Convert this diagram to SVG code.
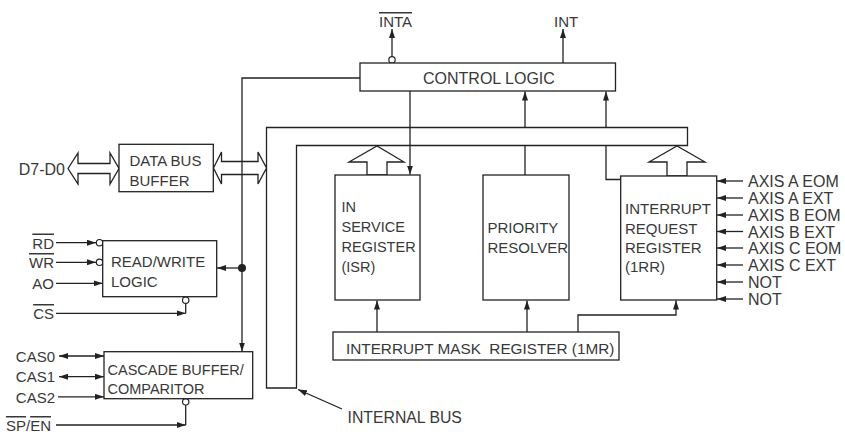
<svg xmlns="http://www.w3.org/2000/svg" width="845" height="434" viewBox="0 0 845 434">
<style>
.t{font-family:"Liberation Sans",Arial,sans-serif;font-size:15px;fill:#383838}
.s{font-size:14.5px}
.r{font-size:16px}
.box{fill:#fff;stroke:#222;stroke-width:1.3}
.ln{fill:none;stroke:#222;stroke-width:1.3}
.arr{marker-end:url(#ah)}
.dbl{marker-start:url(#ah);marker-end:url(#ah)}
.bub{fill:#fff;stroke:#222;stroke-width:1.2}
.hol{fill:#fff;stroke:#222;stroke-width:1.3;stroke-linejoin:miter}
.ov{text-decoration:overline}
</style>
<defs>
<marker id="ah" viewBox="0 0 9 6" refX="9" refY="3" markerWidth="9" markerHeight="6" markerUnits="userSpaceOnUse" orient="auto-start-reverse">
<path d="M0,0 L9,3 L0,6 z" fill="#222"/>
</marker>
</defs>

<g id="connectors">
<path class="ln" d="M266.5,388 L266.5,127.5 L687.5,127.5 L687.5,145.5 L296.5,145.5 L296.5,388 Z"/>
<polygon class="hol" points="68,168.5 78,153 78,163.5 110,163.5 110,153 119,168.5 110,184 110,173.5 78,173.5 78,184"/>
<polygon class="hol" points="213.5,168 221.5,152 221.5,161.5 258,161.5 258,152 266.5,168 258,184 258,174.5 221.5,174.5 221.5,184"/>
<path class="ln arr" d="M360,78 H242 V351.5"/>
<circle cx="242" cy="268" r="4" fill="#222"/>
<line class="ln arr" x1="242" y1="268" x2="217" y2="268"/>
<line class="ln arr" x1="392" y1="56.5" x2="392" y2="29"/>
<circle class="bub" cx="392" cy="59.8" r="3.2"/>
<line class="ln arr" x1="563" y1="63" x2="563" y2="29"/>
<line class="ln arr" x1="410" y1="91" x2="410" y2="174.5"/>
<line class="ln arr" x1="525" y1="127.5" x2="525" y2="91.5"/>
<line class="ln arr" x1="606" y1="127.5" x2="606" y2="91.5"/>
<line class="ln" x1="525" y1="145.5" x2="525" y2="175"/>
<path class="ln" d="M606,145.5 V179.5 H620.5"/>
<polygon class="hol" points="367,175 367,162 349,162 377,146 404,162 387,162 387,175"/>
<polygon class="hol" points="667,176 667,162 649,162 677,146 705,162 687,162 687,176"/>
<line class="ln arr" x1="377" y1="332" x2="377" y2="300.5"/>
<line class="ln arr" x1="527" y1="332" x2="527" y2="300.5"/>
<path class="ln arr" d="M578,332 V315 H676 V300.5"/>
<line class="ln arr" x1="56" y1="242.7" x2="96" y2="242.7"/>
<circle class="bub" cx="99.5" cy="242.7" r="3.2"/>
<line class="ln arr" x1="56" y1="262.3" x2="96" y2="262.3"/>
<circle class="bub" cx="99.5" cy="262.3" r="3.2"/>
<line class="ln arr" x1="56" y1="283.3" x2="102.7" y2="283.3"/>
<line class="ln arr" x1="56" y1="313.3" x2="185.7" y2="313.3"/>
<line class="ln" x1="185.7" y1="313.3" x2="185.7" y2="303.4"/>
<circle class="bub" cx="185.7" cy="300.2" r="3.2"/>
<line class="ln dbl" x1="59" y1="356" x2="104" y2="356"/>
<line class="ln dbl" x1="59" y1="376.7" x2="104" y2="376.7"/>
<line class="ln arr" x1="58" y1="396.8" x2="104" y2="396.8"/>
<line class="ln arr" x1="56" y1="425" x2="185.7" y2="425"/>
<line class="ln" x1="185.7" y1="425" x2="185.7" y2="405"/>
<circle class="bub" cx="185.7" cy="401.8" r="3.2"/>
<line class="ln arr" x1="743" y1="181" x2="717" y2="181"/>
<line class="ln arr" x1="743" y1="198" x2="717" y2="198"/>
<line class="ln arr" x1="743" y1="215" x2="717" y2="215"/>
<line class="ln arr" x1="743" y1="231.5" x2="717" y2="231.5"/>
<line class="ln arr" x1="743" y1="248" x2="717" y2="248"/>
<line class="ln arr" x1="743" y1="265" x2="717" y2="265"/>
<line class="ln arr" x1="743" y1="282" x2="717" y2="282"/>
<line class="ln arr" x1="743" y1="299" x2="717" y2="299"/>
<line class="ln arr" x1="342" y1="409" x2="298" y2="389.5"/>
</g>

<g id="control-logic">
<rect class="box" x="360" y="63" width="255.5" height="28"/>
<text class="t" x="423" y="83.5" style="font-size:16px">CONTROL LOGIC</text>
</g>
<g id="inta"><text class="t" x="379" y="27"><tspan class="ov">INTA</tspan></text></g>
<g id="int"><text class="t" x="554" y="27">INT</text></g>

<g id="data-bus-buffer">
<rect class="box" x="119" y="144.3" width="94.3" height="47.4"/>
<text class="t" x="129.5" y="166">DATA BUS</text>
<text class="t" x="129.5" y="186">BUFFER</text>
</g>
<g id="d7-d0"><text class="t r" x="65" y="175" text-anchor="end">D7-D0</text></g>

<g id="read-write-logic">
<rect class="box" x="102.7" y="240.7" width="114" height="56"/>
<text class="t" x="111" y="266.5">READ/WRITE</text>
<text class="t" x="111" y="286.5">LOGIC</text>
</g>
<g id="rw-labels">
<text class="t" x="54" y="248.5" text-anchor="end"><tspan class="ov">RD</tspan></text>
<text class="t" x="54" y="268" text-anchor="end"><tspan class="ov">WR</tspan></text>
<text class="t" x="54" y="289" text-anchor="end">AO</text>
<text class="t" x="54" y="319" text-anchor="end"><tspan class="ov">CS</tspan></text>
</g>

<g id="cascade-buffer">
<rect class="box" x="104" y="351.7" width="148.7" height="47"/>
<text class="t s" x="107.5" y="375">CASCADE BUFFER/</text>
<text class="t s" x="107.5" y="393.5">COMPARITOR</text>
</g>
<g id="cascade-labels">
<text class="t" x="55" y="361.5" text-anchor="end">CAS0</text>
<text class="t" x="55" y="382" text-anchor="end">CAS1</text>
<text class="t" x="55" y="402.5" text-anchor="end">CAS2</text>
<text class="t" x="51" y="431" text-anchor="end"><tspan class="ov">SP</tspan>/<tspan class="ov">EN</tspan></text>
</g>

<g id="isr">
<rect class="box" x="335" y="175" width="85" height="125"/>
<text class="t s" x="341.5" y="211.5">IN</text>
<text class="t s" x="341.5" y="231.5">SERVICE</text>
<text class="t s" x="341.5" y="251.5">REGISTER</text>
<text class="t s" x="341.5" y="271.5">(ISR)</text>
</g>

<g id="priority-resolver">
<rect class="box" x="483" y="175" width="86" height="125"/>
<text class="t" x="487.5" y="232.5">PRIORITY</text>
<text class="t" x="487.5" y="253">RESOLVER</text>
</g>

<g id="irr">
<rect class="box" x="620.7" y="176" width="96" height="124"/>
<text class="t" x="625" y="213.5">INTERRUPT</text>
<text class="t" x="625" y="233.5">REQUEST</text>
<text class="t" x="625" y="252.5">REGISTER</text>
<text class="t" x="625" y="272">(1RR)</text>
</g>

<g id="irr-inputs">
<text class="t r" x="748" y="187">AXIS A EOM</text>
<text class="t r" x="748" y="204">AXIS A EXT</text>
<text class="t r" x="748" y="221">AXIS B EOM</text>
<text class="t r" x="748" y="237.5">AXIS B EXT</text>
<text class="t r" x="748" y="254">AXIS C EOM</text>
<text class="t r" x="748" y="271">AXIS C EXT</text>
<text class="t r" x="748" y="288">NOT</text>
<text class="t r" x="748" y="305">NOT</text>
</g>

<g id="imr">
<rect class="box" x="333" y="332" width="286" height="28"/>
<text class="t" x="346" y="354" style="font-size:15.3px">INTERRUPT MASK&#160; REGISTER (1MR)</text>
</g>

<g id="internal-bus-label">
<text class="t" x="347.5" y="422.5" style="font-size:15.8px">INTERNAL BUS</text>
</g>
</svg>
